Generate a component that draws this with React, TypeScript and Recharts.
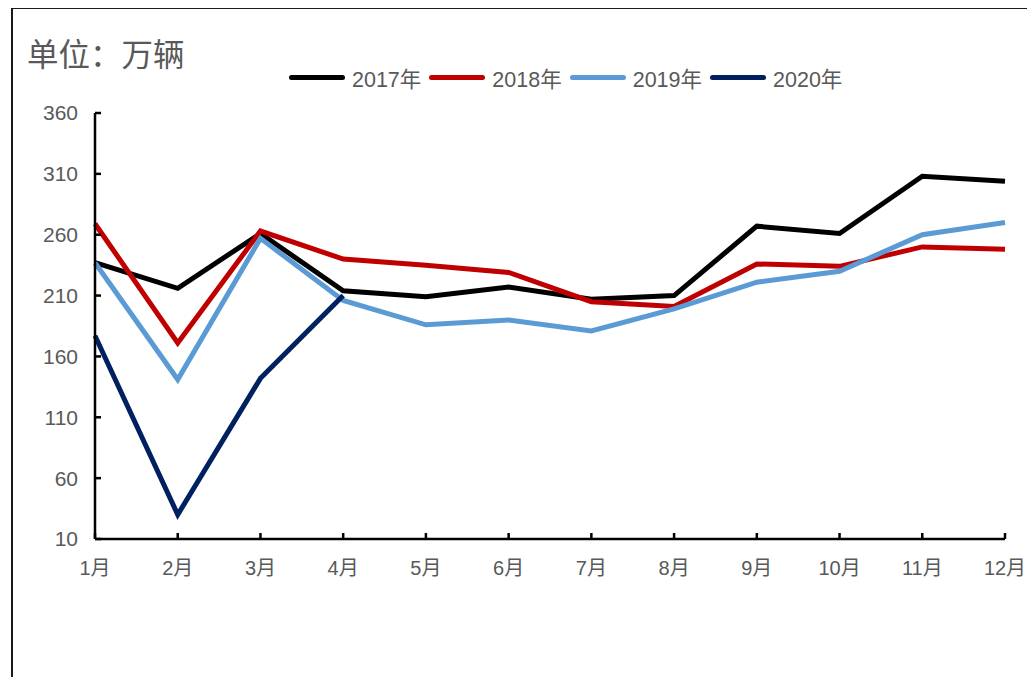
import { Line, LineChart, XAxis, YAxis } from "recharts";

const months = ["1月", "2月", "3月", "4月", "5月", "6月", "7月", "8月", "9月", "10月", "11月", "12月"];
const sales2017 = [237, 216, 261, 214, 209, 217, 207, 210, 267, 261, 308, 304];
const sales2018 = [269, 171, 263, 240, 235, 229, 205, 201, 236, 234, 250, 248];
const sales2019 = [237, 141, 257, 206, 186, 190, 181, 199, 221, 230, 260, 270];
const sales2020 = [177, 30, 142, 210];
const yTicks = [10, 60, 110, 160, 210, 260, 310, 360];
const seriesKeys = ["y2017", "y2018", "y2019", "y2020"];
const seriesNames = ["2017年", "2018年", "2019年", "2020年"];
const seriesColors = ["#000000", "#C00000", "#5B9BD5", "#002060"];

const data = months.map((month, i) => ({
  month,
  y2017: sales2017[i],
  y2018: sales2018[i],
  y2019: sales2019[i],
  y2020: sales2020[i],
}));

const font = "'Liberation Sans', 'Noto Sans CJK SC', sans-serif";
const gray = "#595959";

export default function App() {
  return (
    <div style={{ position: "relative", width: 1027, height: 669, fontFamily: font }}>
      <div
        style={{
          position: "absolute",
          left: 3,
          top: -1,
          right: -10,
          bottom: -10,
          borderLeft: "2px solid #1a1a1a",
          borderTop: "2px solid #1a1a1a",
        }}
      />
      <div
        style={{
          position: "absolute",
          left: 19,
          top: 25,
          fontSize: 31.5,
          color: gray,
          fontFamily: "'Noto Sans CJK SC', sans-serif",
          lineHeight: "38px",
          whiteSpace: "nowrap",
        }}
      >
        单位：万辆
      </div>
      <div
        style={{
          position: "absolute",
          left: 281,
          top: 54,
          display: "flex",
          alignItems: "center",
          fontSize: 21.5,
          color: gray,
          whiteSpace: "nowrap",
        }}
      >
        {seriesNames.map((name, i) => (
          <div key={name} style={{ display: "flex", alignItems: "center", marginRight: 8 }}>
            <div
              style={{
                width: 56,
                height: 5,
                borderRadius: 3,
                background: seriesColors[i],
                marginRight: 7,
              }}
            />
            <span>{name}</span>
          </div>
        ))}
      </div>
      <div style={{ position: "absolute", left: 0, top: 0 }}>
        <LineChart
          width={1027}
          height={640}
          data={data}
          margin={{ top: 105, right: 30, bottom: 69, left: 0 }}
        >
          <XAxis
            dataKey="month"
            stroke="#000"
            strokeWidth={2.5}
            tickSize={-6}
            tickMargin={28}
            tick={{ fill: gray, fontSize: 20, fontFamily: font }}
            height={40}
            interval={0}
          />
          <YAxis
            domain={[10, 360]}
            ticks={yTicks}
            stroke="#000"
            strokeWidth={2.5}
            tickSize={-6}
            tickMargin={23}
            tick={{ fill: gray, fontSize: 21, fontFamily: font }}
            width={87}
            interval={0}
          />
          {seriesKeys.map((key, i) => (
            <Line
              key={key}
              dataKey={key}
              name={seriesNames[i]}
              stroke={seriesColors[i]}
              strokeWidth={5}
              dot={false}
              type="linear"
              isAnimationActive={false}
            />
          ))}
        </LineChart>
      </div>
    </div>
  );
}
